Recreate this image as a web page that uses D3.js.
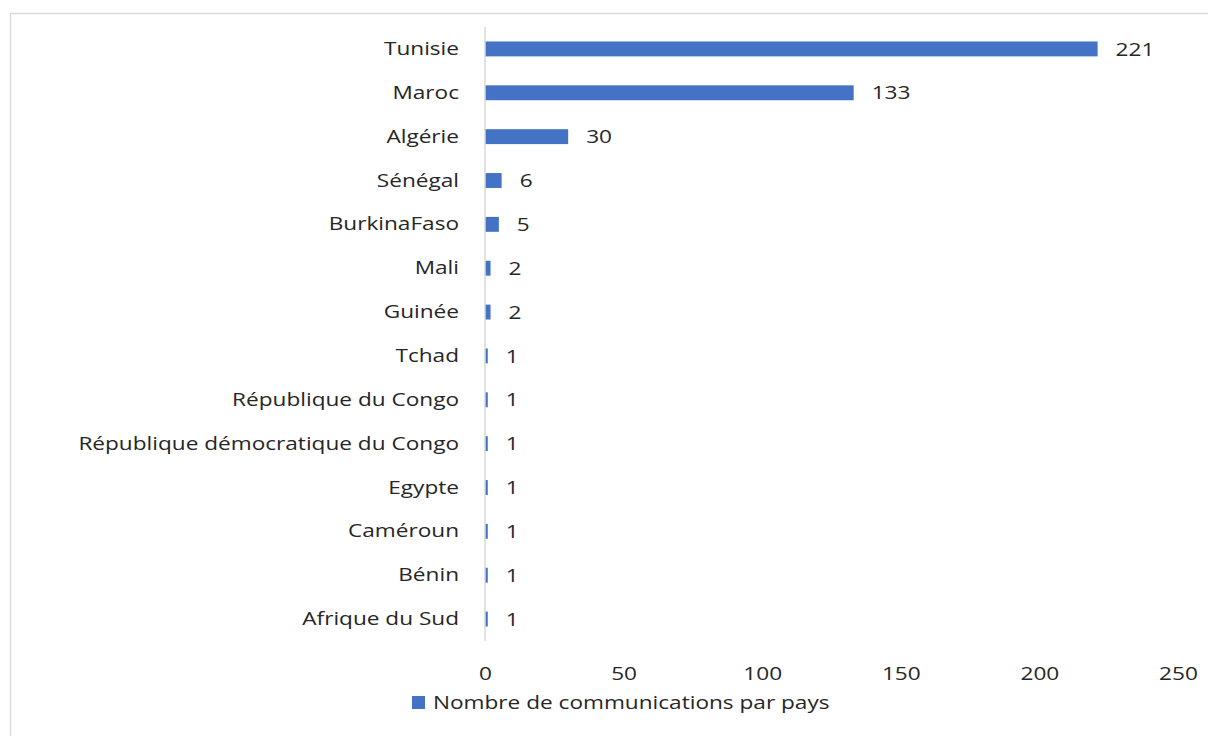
<!DOCTYPE html>
<html>
<head>
<meta charset="utf-8">
<script src="https://cdn.jsdelivr.net/npm/d3@7"></script>
<style>
  html, body { margin: 0; padding: 0; background: #fff; }
  svg { display: block; }
  text { font-family: "Open Sans", "Noto Sans", sans-serif; fill: #262626; }
</style>
</head>
<body>
<svg id="chart" width="1208" height="736"></svg>
<script>
// Nombre de communications par pays
const countries = [
  "Tunisie", "Maroc", "Algérie", "Sénégal", "BurkinaFaso", "Mali", "Guinée",
  "Tchad", "République du Congo", "République démocratique du Congo",
  "Egypte", "Caméroun", "Bénin", "Afrique du Sud"
];
const counts = [221, 133, 30, 6, 5, 2, 2, 1, 1, 1, 1, 1, 1, 1];
const xTicks = [0, 50, 100, 150, 200, 250];
const seriesName = "Nombre de communications par pays";

const data = countries.map((c, i) => ({ country: c, value: counts[i] }));

const svg = d3.select("#chart");
const W = 1208, H = 736;
const barColor = "#4472C4";
const fontSize = "19px";
const stretch = 1.19; // wide letterforms

// re-anchor a text element so it can be stretched horizontally about its own position
function widen(sel) {
  sel.each(function () {
    const t = d3.select(this);
    const tx = +t.attr("x") || 0, ty = +t.attr("y") || 0;
    t.attr("x", 0).attr("y", 0)
      .attr("transform", `translate(${tx},${ty}) scale(${stretch},1)`);
  });
}

// chart frame
svg.append("rect")
  .attr("x", 10.5).attr("y", 13.5)
  .attr("width", W + 20).attr("height", H + 20)
  .attr("fill", "#fff").attr("stroke", "#d9d9d9").attr("stroke-width", 1.5);

const plotL = 485, plotR = 1178, plotT = 27, plotB = 641;

const x = d3.scaleLinear().domain([0, 250]).range([plotL, plotR]);
const y = d3.scaleBand().domain(countries).range([plotT, plotB]).paddingInner(0.66).paddingOuter(0.33);

// bars
svg.append("g").selectAll("rect").data(data).join("rect")
  .attr("x", x(0))
  .attr("y", d => y(d.country))
  .attr("width", d => x(d.value) - x(0))
  .attr("height", y.bandwidth())
  .attr("fill", barColor);

// vertical axis line
svg.append("line")
  .attr("x1", plotL).attr("x2", plotL)
  .attr("y1", plotT).attr("y2", plotB)
  .attr("stroke", "#d9d9d9").attr("stroke-width", 1.5);

// category labels
const yAxis = d3.axisLeft(y).tickSize(0).tickPadding(26);
const gy = svg.append("g").attr("transform", `translate(${plotL},0)`).call(yAxis);
gy.select(".domain").remove();
gy.selectAll("text").style("font-size", fontSize).attr("fill", "#262626").call(widen);

// value labels
svg.append("g").selectAll("text").data(data).join("text")
  .attr("x", d => x(d.value) + 18)
  .attr("y", d => y(d.country) + y.bandwidth() / 2)
  .attr("dy", "0.35em")
  .style("font-size", fontSize)
  .text(d => d.value)
  .call(widen);

// x axis tick labels
const xAxis = d3.axisBottom(x).tickValues(xTicks).tickSize(0).tickPadding(26);
const gx = svg.append("g").attr("transform", `translate(0,${plotB})`).call(xAxis);
gx.select(".domain").remove();
gx.selectAll("text").style("font-size", fontSize).attr("fill", "#262626").call(widen);

// legend
const legend = svg.append("g").attr("transform", "translate(412,702)");
legend.append("rect").attr("x", 0).attr("y", -6).attr("width", 13).attr("height", 13).attr("fill", barColor);
legend.append("text").attr("x", 21).attr("y", 0).attr("dy", "0.35em")
  .style("font-size", fontSize).text(seriesName).call(widen);
</script>
</body>
</html>
